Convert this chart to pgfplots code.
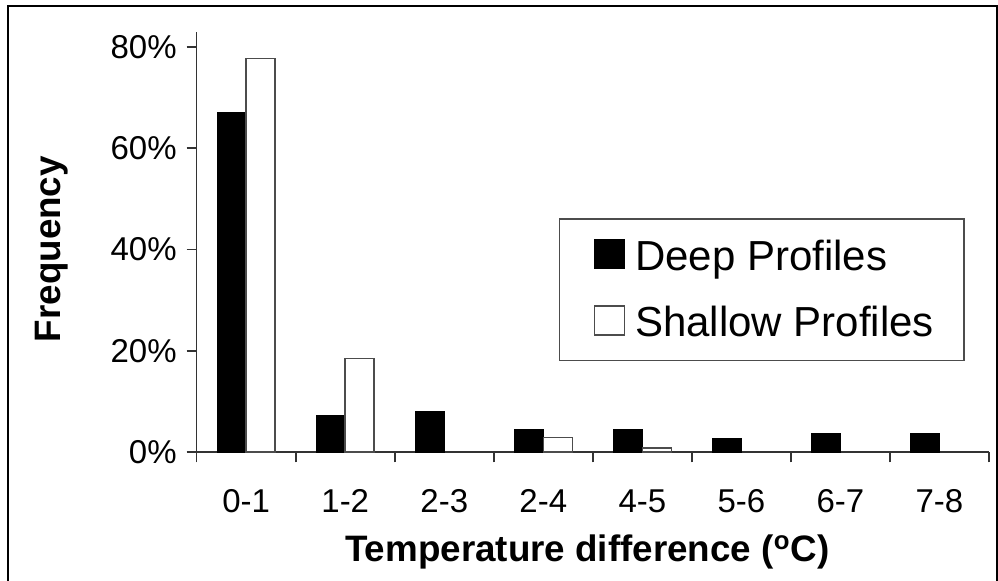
\documentclass[border=0pt]{standalone}
\usepackage{pgfplots}
\pgfplotsset{compat=1.18}
\usepackage{fontspec}
\setmainfont{Liberation Sans}

\begin{document}
\begin{tikzpicture}
\useasboundingbox (0,0) rectangle (499pt,-290.5pt);
\draw[line width=1pt] (4.2pt,-3pt) rectangle (498.3pt,-300pt);
\begin{axis}[
  at={(98.35pt,-226.15pt)}, anchor=south west,
  scale only axis, width=396.15pt, height=210.3pt,
  ybar=0pt, bar width=14.5pt,
  xmin=-0.5, xmax=7.5, ymin=0, ymax=83,
  axis lines*=left,
  axis line style={black!80, line width=0.8pt},
  tick style={black!80, line width=0.8pt},
  tick align=outside, major tick length=5pt,
  xtick={-0.5,0.5,...,7.5},
  x tick label as interval,
  xticklabels={0-1,1-2,2-3,2-4,4-5,5-6,6-7,7-8},
  xticklabel style={yshift=-10pt},
  ytick={0,20,40,60,80},
  yticklabels={0\%,20\%,40\%,60\%,80\%},
  yticklabel style={xshift=-1.5pt},
  ticklabel style={font=\fontsize{16.5}{19}\selectfont},
  xlabel={Temperature difference (\textsuperscript{o}C)},
  ylabel={Frequency},
  label style={font=\bfseries\fontsize{18.4}{21}\selectfont},
  xlabel style={at={(axis description cs:0.493,-0.26)}, anchor=base},
  ylabel style={at={(axis description cs:-0.1725,0.483)}, anchor=base},
  legend style={at={(0.457,0.557)}, anchor=north west, draw=black!70,
    line width=0.8pt, font=\fontsize{21}{24}\selectfont,
    inner xsep=13pt, inner ysep=8.5pt, row sep=12.5pt},
  legend cell align=left,
]
\addplot[fill=black, draw=black, line width=0.6pt,
  legend image code/.code={\path (-4pt,0pt) (18pt,0pt);
    \draw[fill=black,draw=black] (0pt,-6pt) rectangle (15pt,8.5pt);}]
  coordinates {(0,67.1) (1,7.3) (2,8.0) (3,4.5) (4,4.5) (5,2.8) (6,3.7) (7,3.7)};
\addplot[fill=white, draw=black!70, line width=0.8pt,
  legend image code/.code={\path (-4pt,0pt) (18pt,0pt);
    \draw[fill=white,draw=black!70,line width=0.8pt] (0pt,-6pt) rectangle (15pt,8.5pt);}]
  coordinates {(0,77.7) (1,18.5) (3,2.9) (4,0.9)};
\addlegendentry{Deep Profiles}
\addlegendentry{Shallow Profiles}
\end{axis}
\end{tikzpicture}
\end{document}
